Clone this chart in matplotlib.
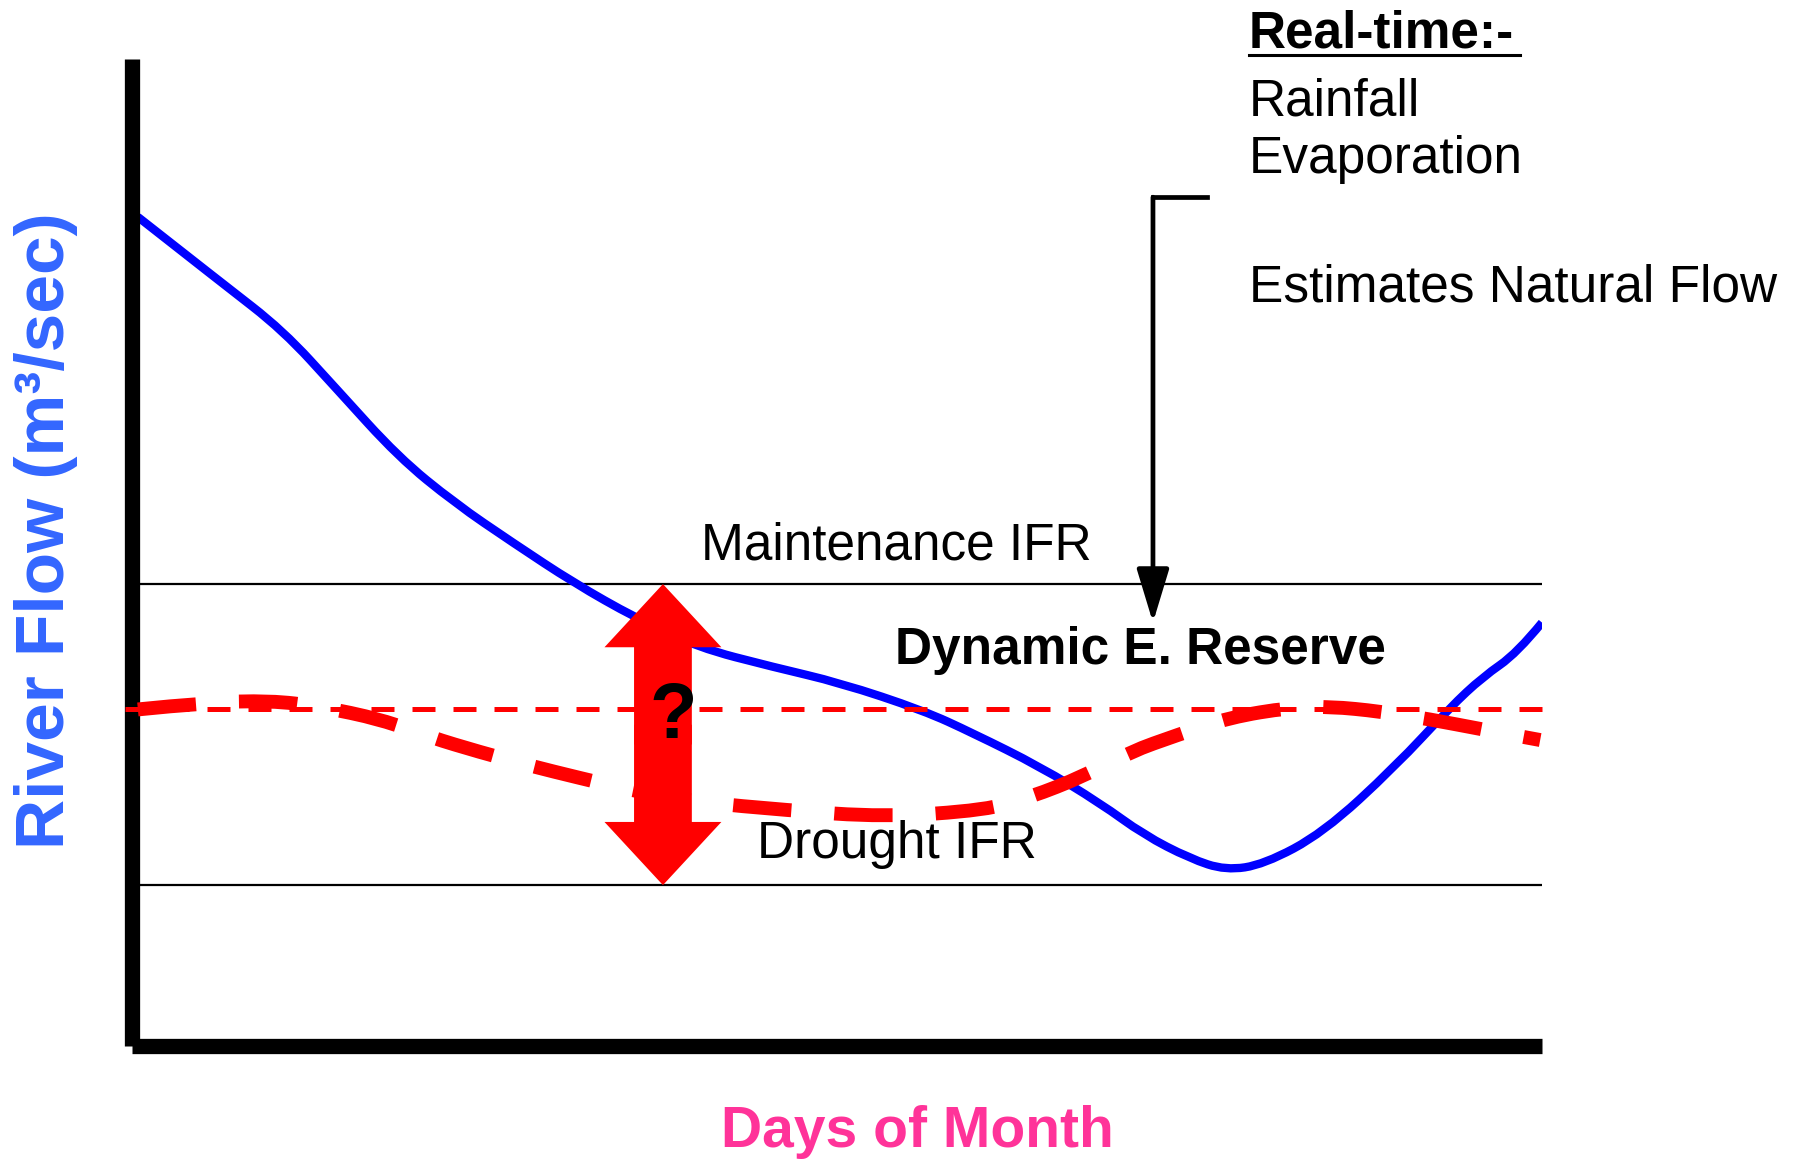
import matplotlib
matplotlib.use("Agg")
import matplotlib.pyplot as plt
from matplotlib.path import Path
from matplotlib.patches import PathPatch, FancyArrow
from matplotlib.lines import Line2D

plt.rcParams['font.family'] = ['Liberation Sans', 'DejaVu Sans']

# natural flow (blue) - days vs flow
flow_days = [0.14, 1.99, 3.33, 4.52, 5.86, 7.11, 8.38, 9.73, 11.07, 12.43, 14.10,
             15.57, 17.40, 18.49, 19.97, 21.29, 22.25, 23.26, 24.05, 24.89, 26.19,
             27.77, 28.98, 29.70, 30.45, 31.0]
flow_vals = [84.0, 77.3, 72.5, 66.5, 59.7, 55.0, 51.0, 46.9, 43.4, 40.4, 38.4,
             36.8, 34.0, 31.7, 28.3, 24.6, 21.4, 19.0, 17.8, 18.4, 21.6,
             28.3, 34.3, 37.4, 39.8, 42.9]

# dynamic reserve (thick red dashed)
reserve_days = [0.14, 1.66, 3.04, 4.14, 5.48, 6.56, 7.64, 8.76, 9.81, 11.18, 12.49,
                14.38, 16.54, 18.78, 19.75, 20.91, 21.95, 22.98, 24.14, 25.46, 26.34,
                27.44, 28.54, 29.66, 30.96]
reserve_vals = [34.1, 34.8, 35.0, 34.4, 33.1, 31.3, 29.8, 28.4, 27.2, 25.7, 24.7,
                23.9, 23.2, 23.9, 25.2, 27.3, 29.8, 31.5, 33.3, 34.3, 34.4,
                33.9, 33.1, 32.1, 31.0]

maintenance_ifr = 46.8
drought_ifr = 16.3
static_reserve = 34.1
arrow_day = 11.68
pointer_day = 22.45
pointer_top = 86.0
pointer_right = 23.64

W, H = 1802, 1159
fig = plt.figure(figsize=(W / 100, H / 100), dpi=100)
ax = fig.add_axes([131.5 / W, 1 - 1046 / H, (1542 - 131.5) / W, (1046 - 59) / H])
ax.set_xlim(0, 31)
ax.set_ylim(0, 100)
ax.set_xticks([])
ax.set_yticks([])
for s in ['top', 'right']:
    ax.spines[s].set_visible(False)
for s in ['left', 'bottom']:
    ax.spines[s].set_linewidth(11)
    ax.spines[s].set_capstyle('butt')


def smooth_path(xs, ys):
    # quadratic bezier through midpoints
    pts = list(zip(xs, ys))
    verts = [pts[0]]
    codes = [Path.MOVETO]
    for i in range(1, len(pts) - 1):
        mid = ((pts[i][0] + pts[i + 1][0]) / 2, (pts[i][1] + pts[i + 1][1]) / 2)
        if i == len(pts) - 2:
            mid = pts[-1]
        verts += [pts[i], mid]
        codes += [Path.CURVE3, Path.CURVE3]
    return Path(verts, codes)


# IFR lines
ax.hlines([maintenance_ifr, drought_ifr], 0.15, 31, color='black', lw=1.6, zorder=1)

# natural flow
ax.add_patch(PathPatch(smooth_path(flow_days, flow_vals), fill=False,
                       edgecolor='#0000ff', lw=6, zorder=2, capstyle='butt'))

# reserve lines
ax.plot([-0.15, 31], [static_reserve, static_reserve], color='#ff0000', lw=3.6,
        dashes=(4.6, 3.6), zorder=3, clip_on=False, solid_capstyle='butt')
ax.add_patch(PathPatch(smooth_path(reserve_days, reserve_vals), fill=False,
                       edgecolor='#ff0000', lw=10, linestyle=(0, (4.2, 3.1)),
                       zorder=3, capstyle='butt'))

# double red arrow (two halves overlapping in the middle)
mid = (maintenance_ifr + drought_ifr) / 2
for start, end in [(mid - 1, maintenance_ifr), (mid + 1, drought_ifr)]:
    ax.add_patch(FancyArrow(arrow_day, start, 0, end - start, width=1.27, head_width=2.57,
                            head_length=6.4, length_includes_head=True,
                            color='#ff0000', lw=0, zorder=4))

# black pointer arrow
ax.plot([pointer_right, pointer_day], [pointer_top, pointer_top], color='black', lw=3.4,
        solid_joinstyle='miter', solid_capstyle='projecting', zorder=3)
ax.annotate('', xy=(pointer_day, maintenance_ifr - 3.9), xytext=(pointer_day, pointer_top),
            arrowprops=dict(arrowstyle='-|>,head_length=3.3,head_width=1.0', lw=3.4,
                            color='black', shrinkA=0, shrinkB=0, mutation_scale=10),
            zorder=3)


def ftext(x, y, s, **kw):
    return fig.text(x / W, 1 - y / H, s, **kw)


ftext(701, 560, 'Maintenance IFR', fontsize=37, va='baseline')
ftext(895, 664, 'Dynamic E. Reserve', fontsize=37, fontweight='bold', va='baseline')
ftext(757, 858, 'Drought IFR', fontsize=37, va='baseline')
ftext(673, 718, '?', fontsize=56, fontweight='bold', ha='center', va='center', zorder=6)

ftext(1249, 48, 'Real-time:-', fontsize=37, fontweight='bold', va='baseline')
fig.add_artist(Line2D([1249 / W, 1520 / W], [1 - 55 / H, 1 - 55 / H], color='black', lw=2.2))
ftext(1249, 115, 'Rainfall', fontsize=37, va='baseline')
ftext(1249, 173, 'Evaporation', fontsize=37, va='baseline')
ftext(1249, 302, 'Estimates Natural Flow', fontsize=37, va='baseline')

ftext(917, 1147, 'Days of Month', fontsize=41, fontweight='bold', color='#ff3399',
      ha='center', va='baseline')
ftext(46, 531, 'River Flow (m³/sec)', fontsize=50, fontweight='bold', color='#3366ff',
      rotation=90, ha='center', va='center')

fig.savefig('out.png', dpi=100)
